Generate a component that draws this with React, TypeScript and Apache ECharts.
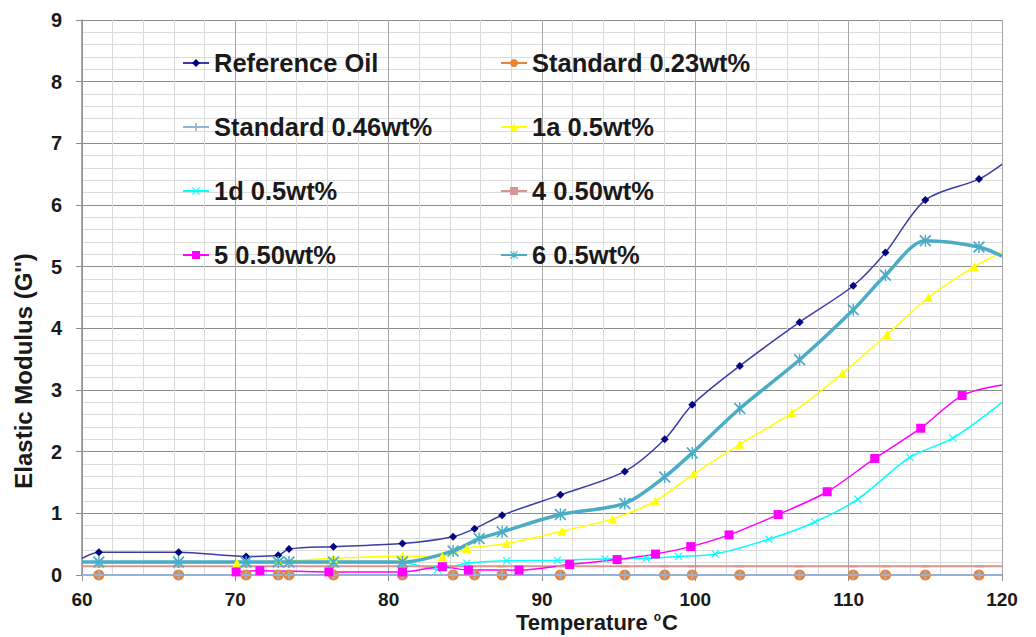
import React, { useEffect, useRef } from "react";
import * as echarts from "echarts";

// ---- data ----
const seriesNames = [
  "Reference Oil",
  "Standard 0.23wt%",
  "Standard 0.46wt%",
  "1a 0.5wt%",
  "1d 0.5wt%",
  "4 0.50wt%",
  "5 0.50wt%",
  "6 0.5wt%",
];

const refOilT = [60, 61.1, 66.3, 70.7, 72.8, 73.5, 76.4, 80.9, 84.2, 85.6, 87.4, 91.2, 95.4, 98.0, 99.8, 102.9, 106.8, 110.3, 112.4, 115.0, 118.5, 120];
const refOilV = [0.27, 0.37, 0.37, 0.30, 0.32, 0.42, 0.46, 0.51, 0.62, 0.75, 0.97, 1.30, 1.68, 2.20, 2.76, 3.39, 4.10, 4.69, 5.23, 6.08, 6.42, 6.66];

const std23T = [61.1, 66.3, 70.7, 72.8, 73.5, 76.4, 80.9, 84.2, 85.6, 87.4, 91.2, 95.4, 98.0, 99.8, 102.9, 106.8, 110.3, 112.4, 115.0, 118.5];
const std23V = [0, 0, 0, 0, 0, 0, 0, 0, 0, 0, 0, 0, 0, 0, 0, 0, 0, 0, 0, 0];

const std46T = [60, 61.1, 66.3, 70.7, 72.8, 73.5, 76.4, 80.9, 84.2, 85.6, 87.4, 91.2, 95.4, 98.0, 99.8, 102.9, 106.8, 110.3, 112.4, 115.0, 118.5, 120];
const std46V = [0, 0, 0, 0, 0, 0, 0, 0, 0, 0, 0, 0, 0, 0, 0, 0, 0, 0, 0, 0, 0, 0];

const s1aT = [70.1, 72.8, 76.4, 80.9, 83.5, 85.1, 87.7, 91.3, 94.6, 97.4, 99.9, 102.9, 106.3, 109.6, 112.5, 115.2, 118.2, 120];
const s1aV = [0.2, 0.22, 0.27, 0.31, 0.3, 0.43, 0.51, 0.71, 0.91, 1.2, 1.64, 2.12, 2.63, 3.27, 3.9, 4.5, 5.0, 5.24];

const s1dT = [61.1, 66.3, 70.7, 72.8, 76.4, 80.9, 83.2, 85.1, 87.7, 91.0, 94.1, 96.8, 98.9, 101.3, 104.8, 107.8, 110.6, 114.0, 116.8, 120];
const s1dV = [0.2, 0.2, 0.2, 0.2, 0.2, 0.2, 0.09, 0.19, 0.23, 0.24, 0.26, 0.27, 0.3, 0.34, 0.58, 0.86, 1.23, 1.91, 2.22, 2.8];

const s4T = [60, 61.1, 66.3, 70.7, 76.4, 80.9, 84.2, 87.4, 91.2, 95.4, 98.0, 99.8, 102.9, 106.8, 110.3, 112.4, 115.0, 118.5, 120];
const s4V = [0.14, 0.14, 0.14, 0.14, 0.14, 0.14, 0.14, 0.14, 0.14, 0.14, 0.14, 0.14, 0.14, 0.14, 0.14, 0.14, 0.14, 0.14, 0.14];

const s5T = [70.05, 71.6, 76.1, 80.9, 83.5, 85.2, 88.5, 91.8, 94.9, 97.4, 99.7, 102.2, 105.4, 108.6, 111.7, 114.7, 117.4, 120];
const s5V = [0.05, 0.07, 0.05, 0.05, 0.135, 0.08, 0.08, 0.17, 0.25, 0.34, 0.46, 0.65, 0.98, 1.35, 1.89, 2.38, 2.91, 3.08];

const s6T = [60, 61.1, 66.3, 70.7, 72.8, 73.5, 76.4, 80.9, 84.2, 85.9, 87.4, 91.2, 95.4, 98.0, 99.8, 102.9, 106.8, 110.3, 112.4, 115.0, 118.5, 120];
const s6V = [0.21, 0.21, 0.21, 0.21, 0.21, 0.21, 0.21, 0.21, 0.39, 0.59, 0.7, 0.98, 1.16, 1.59, 1.98, 2.7, 3.49, 4.3, 4.86, 5.42, 5.32, 5.17];

const xTicks = [60, 70, 80, 90, 100, 110, 120];
const yTicks = [0, 1, 2, 3, 4, 5, 6, 7, 8, 9];

const FONT = "Liberation Sans, Arial, sans-serif";

const PLUS = "path://M4,0H6V4H10V6H6V10H4V6H0V4H4Z";
const XMARK = "path://M1,0L5,4L9,0L10,1L6,5L10,9L9,10L5,6L1,10L0,9L4,5L0,1Z";
const ASTER = "path://M1,0L5,4L9,0L10,1L6,5L10,9L9,10L5,6L1,10L0,9L4,5L0,1Z M4.4,0H5.6V10H4.4Z";
const DASH = "path://M0,0H10V2H0Z";

function pairs(t: number[], v: number[], edgeNoSymbol = false) {
  return t.map((x, i) => {
    const item: any = { value: [x, v[i]] };
    if (edgeNoSymbol && (x <= 60 || x >= 120)) item.symbol = "none";
    return item;
  });
}

export default function App() {
  const ref = useRef<HTMLDivElement>(null);
  useEffect(() => {
    document.body.style.margin = "0";
    if (!ref.current) return;
    const chart = echarts.init(ref.current, undefined, { renderer: "svg" });

    const base = (name: string, color: string, t: number[], v: number[], extra: any) => ({
      name,
      type: "line",
      data: pairs(t, v, true),
      smooth: 0.3,
      color,
      lineStyle: { color, width: 1.5 },
      itemStyle: { color },
      clip: true,
      ...extra,
    });

    const legendText = { fontFamily: FONT, fontWeight: "bold", fontSize: 25.5, color: "#1a1a1a" };

    const option: any = {
      animation: false,
      backgroundColor: "#ffffff",
      grid: { left: 82, right: 34, top: 20, bottom: 62, containLabel: false },
      xAxis: {
        type: "value",
        min: xTicks[0],
        max: xTicks[xTicks.length - 1],
        interval: 10,
        axisLine: { show: true, lineStyle: { color: "#8c8c8c", width: 1.5 } },
        axisTick: { show: true, length: 6, lineStyle: { color: "#8c8c8c" } },
        axisLabel: { color: "#1a1a1a", fontFamily: FONT, fontWeight: "bold", fontSize: 19, margin: 15 },
        splitLine: { show: true, lineStyle: { color: "#a6a6a6", width: 1 } },
        minorTick: { show: false, splitNumber: 5 },
        minorSplitLine: { show: true, lineStyle: { color: "#dadada", width: 1 } },
      },
      yAxis: {
        type: "value",
        min: yTicks[0],
        max: yTicks[yTicks.length - 1],
        interval: 1,
        axisLine: { show: true, lineStyle: { color: "#8c8c8c", width: 1.5 } },
        axisTick: { show: true, length: 6, lineStyle: { color: "#8c8c8c" } },
        axisLabel: { color: "#1a1a1a", fontFamily: FONT, fontWeight: "bold", fontSize: 20, margin: 20 },
        splitLine: { show: true, lineStyle: { color: "#8c8c8c", width: 1.2 } },
        minorTick: { show: false, splitNumber: 5 },
        minorSplitLine: { show: true, lineStyle: { color: "#dcdcdc", width: 1 } },
      },
      legend: [
        {
          data: [seriesNames[0], seriesNames[2], seriesNames[4], seriesNames[6]],
          orient: "vertical",
          left: 177,
          top: 45,
          itemWidth: 26,
          itemHeight: 10,
          itemGap: 38,
          textStyle: legendText,
        },
        {
          data: [seriesNames[1], seriesNames[3], seriesNames[5], seriesNames[7]],
          orient: "vertical",
          left: 495,
          top: 45,
          itemWidth: 26,
          itemHeight: 10,
          itemGap: 38,
          textStyle: legendText,
        },
      ],
      series: [
        base(seriesNames[0], "#3c3ca6", refOilT, refOilV, {
          symbol: "diamond",
          symbolSize: 8,
          itemStyle: { color: "#000080" },
        }),
        {
          ...base(seriesNames[1], "#e9853b", std23T, std23V, { symbol: "circle", symbolSize: 11 }),
          data: pairs(std23T, std23V),
          smooth: false,
        },
        {
          ...base(seriesNames[2], "#95b3d7", std46T, std46V, {
            symbol: PLUS,
            symbolSize: 9,
            lineStyle: { color: "#95b3d7", width: 2 },
            itemStyle: { color: "#95b3d7" },
          }),
          smooth: false,
        },
        base(seriesNames[3], "#ffff00", s1aT, s1aV, { symbol: "triangle", symbolSize: 9 }),
        base(seriesNames[4], "#00ffff", s1dT, s1dV, { symbol: XMARK, symbolSize: 8 }),
        {
          ...base(seriesNames[5], "#d99594", s4T, s4V, {
            symbol: DASH,
            symbolSize: [9, 2],
            lineStyle: { color: "#d99594", width: 2 },
          }),
          smooth: false,
        },
        base(seriesNames[6], "#ff00ff", s5T, s5V, { symbol: "rect", symbolSize: 9 }),
        base(seriesNames[7], "#4bacc6", s6T, s6V, {
          symbol: ASTER,
          symbolSize: 12,
          lineStyle: { color: "#4bacc6", width: 3.5 },
        }),
      ],
      graphic: [
        {
          type: "text",
          x: 23,
          y: 371,
          rotation: Math.PI / 2,
          style: {
            text: "Elastic Modulus (G'')",
            fontFamily: FONT,
            fontWeight: "bold",
            fontSize: 24,
            fill: "#1a1a1a",
            align: "center",
            verticalAlign: "middle",
          },
        },
        {
          type: "text",
          x: 597,
          y: 622,
          style: {
            text: "{t|Temperature }{s|o}{t|C}",
            align: "center",
            verticalAlign: "middle",
            rich: {
              t: { fontFamily: FONT, fontWeight: "bold", fontSize: 22, fill: "#1a1a1a", color: "#1a1a1a" },
              s: { fontFamily: FONT, fontWeight: "bold", fontSize: 12, fill: "#1a1a1a", color: "#1a1a1a", verticalAlign: "top", padding: [0, 1, 6, 0] },
            },
          },
        },
      ],
    };

    chart.setOption(option);
    return () => chart.dispose();
  }, []);

  return <div ref={ref} style={{ width: 1036, height: 637 }} />;
}
